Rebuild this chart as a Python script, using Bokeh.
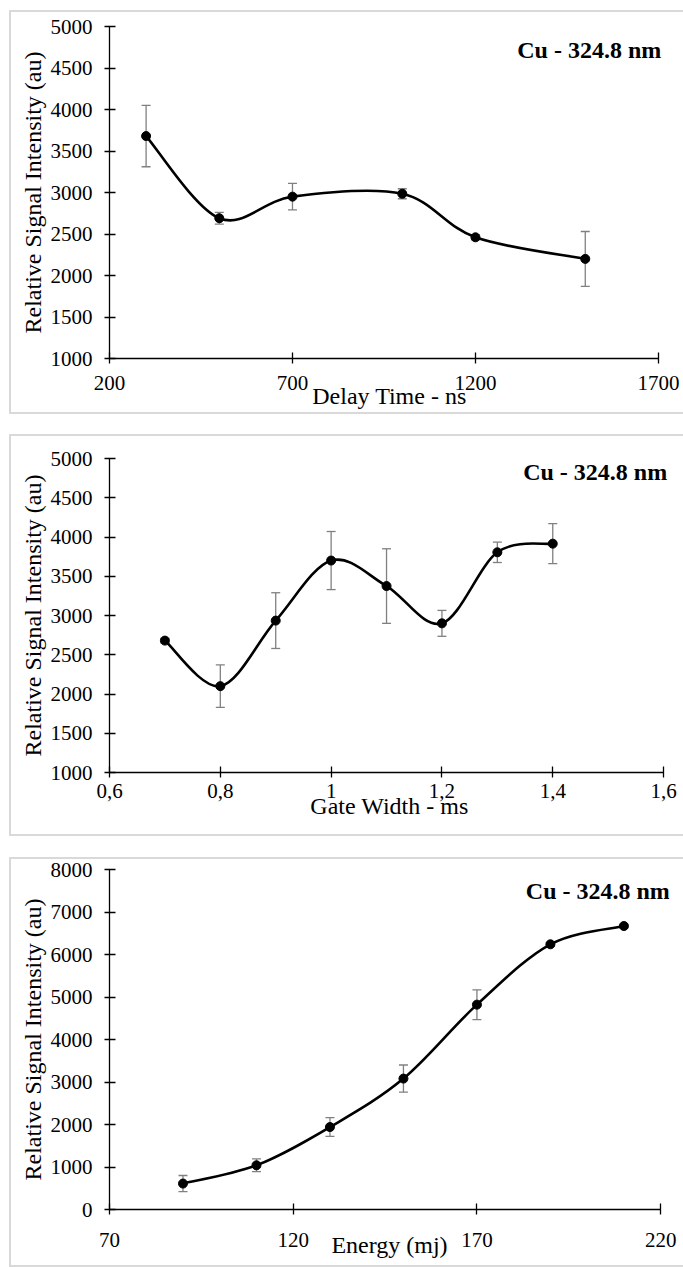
import numpy as np
from bokeh.plotting import figure
from bokeh.models import ColumnDataSource, Whisker, TeeHead, FixedTicker, Label, Range1d
from bokeh.layouts import column
from bokeh.embed import file_html
from bokeh.resources import INLINE

# ---------------- data ----------------
delay_ns = [300, 500, 700, 1000, 1200, 1500]
delay_int = [3680, 2690, 2950, 2985, 2460, 2200]
delay_err = [370, 70, 160, 60, 30, 330]

gate_ms = [0.7, 0.8, 0.9, 1.0, 1.1, 1.2, 1.3, 1.4]
gate_int = [2680, 2100, 2935, 3700, 3375, 2900, 3805, 3915]
gate_err = [30, 270, 355, 370, 475, 165, 130, 255]

energy_mj = [90, 110, 130, 150, 170, 190, 210]
energy_int = [610, 1040, 1940, 3080, 4820, 6240, 6670]
energy_err = [190, 150, 220, 320, 350, 40, 40]

delay_xticks = [200, 700, 1200, 1700]
delay_yticks = [1000, 1500, 2000, 2500, 3000, 3500, 4000, 4500, 5000]
gate_xticks = [0.6, 0.8, 1.0, 1.2, 1.4, 1.6]
gate_xlabels = ["0,6", "0,8", "1", "1,2", "1,4", "1,6"]
gate_yticks = [1000, 1500, 2000, 2500, 3000, 3500, 4000, 4500, 5000]
energy_xticks = [70, 120, 170, 220]
energy_yticks = [0, 1000, 2000, 3000, 4000, 5000, 6000, 7000, 8000]

title_text = "Cu - 324.8 nm"
ylab = "Relative Signal Intensity (au)"

FONT = "serif"
BORDER = "2px solid #d9d9d9"
LEFT = 9          # page x of each panel's left edge
BW = 2            # border width
W = 674           # element width (reaches the page's right edge)


def smooth(xs, ys):
    """Catmull-Rom style smoothing (like spreadsheet smoothed lines) -> bezier segments"""
    x = np.asarray(xs, float)
    y = np.asarray(ys, float)
    xp = np.concatenate([[x[0]], x, [x[-1]]])
    yp = np.concatenate([[y[0]], y, [y[-1]]])
    d = dict(x0=[], y0=[], x1=[], y1=[], cx0=[], cy0=[], cx1=[], cy1=[])
    for i in range(len(x) - 1):
        j = i + 1
        d["x0"].append(xp[j]); d["y0"].append(yp[j])
        d["x1"].append(xp[j + 1]); d["y1"].append(yp[j + 1])
        d["cx0"].append(xp[j] + (xp[j + 1] - xp[j - 1]) / 6)
        d["cy0"].append(yp[j] + (yp[j + 1] - yp[j - 1]) / 6)
        d["cx1"].append(xp[j + 1] - (xp[j + 2] - xp[j]) / 6)
        d["cy1"].append(yp[j + 1] - (yp[j + 2] - yp[j]) / 6)
    return d


def make_panel(xs, ys, errs, xr, yr, xticks, yticks, xlabel, height,
               frame_left_px, axis_end_px, mb_right, mb_top, mb_bottom, title_xy, margin_top,
               xlabel_overrides=None, tick_standoff_x=10, label_standoff_x=-14):
    content_left = LEFT + BW
    content_right = content_left + W - BW
    frame_right = content_right - mb_right
    scale = (xr[1] - xr[0]) / (axis_end_px - frame_left_px)
    x_end = xr[0] + (frame_right - frame_left_px) * scale
    p = figure(width=W, height=height, output_backend="svg", toolbar_location=None,
               x_range=Range1d(xr[0], x_end), y_range=Range1d(*yr),
               min_border_left=frame_left_px - content_left, min_border_right=mb_right,
               min_border_top=mb_top, min_border_bottom=mb_bottom)
    p.grid.visible = False
    p.outline_line_color = None
    p.background_fill_color = "white"
    p.border_fill_color = "white"
    p.xaxis.ticker = FixedTicker(ticks=xticks)
    p.yaxis.ticker = FixedTicker(ticks=yticks)
    p.xaxis.bounds = (xr[0], xr[1])
    if xlabel_overrides:
        p.xaxis.major_label_overrides = xlabel_overrides
    for ax in (p.xaxis, p.yaxis):
        ax.axis_line_color = "black"
        ax.axis_line_width = 1.3
        ax.major_tick_line_color = "black"
        ax.major_tick_line_width = 1.3
        ax.minor_tick_line_color = None
        ax.major_tick_in = 6
        ax.major_tick_out = 5
        ax.major_label_text_font = FONT
        ax.major_label_text_font_size = "21px"
        ax.major_label_text_color = "black"
        ax.axis_label_text_font = FONT
        ax.axis_label_text_font_size = "24px"
        ax.axis_label_text_font_style = "normal"
        ax.axis_label_text_color = "black"
    p.xaxis.axis_label = xlabel
    p.yaxis.axis_label = ylab
    p.xaxis.major_label_standoff = tick_standoff_x
    p.xaxis.axis_label_standoff = label_standoff_x
    p.yaxis.major_label_standoff = 12
    p.yaxis.axis_label_standoff = 2

    upper = [v + e for v, e in zip(ys, errs)]
    lower = [v - e for v, e in zip(ys, errs)]
    src = ColumnDataSource(dict(x=xs, y=ys, upper=upper, lower=lower))
    w = Whisker(base="x", upper="upper", lower="lower", source=src,
                line_color="#808080", line_width=1.3,
                upper_head=TeeHead(size=9, line_color="#808080", line_width=1.3),
                lower_head=TeeHead(size=9, line_color="#808080", line_width=1.3))
    p.add_layout(w)

    seg = ColumnDataSource(smooth(xs, ys))
    p.bezier(x0="x0", y0="y0", x1="x1", y1="y1", cx0="cx0", cy0="cy0",
             cx1="cx1", cy1="cy1", source=seg, line_color="black", line_width=2.6)
    p.scatter("x", "y", source=src, size=9, color="black")

    p.add_layout(Label(x=title_xy[0], y=title_xy[1], text=title_text,
                       text_font=FONT, text_font_style="bold", text_font_size="24px",
                       text_align="center", text_baseline="alphabetic", text_color="black"))
    p.styles = {"border-left": BORDER, "border-top": BORDER, "border-bottom": BORDER}
    p.margin = (margin_top, 0, 0, LEFT)
    return p


p1 = make_panel(delay_ns, delay_int, delay_err, (200, 1700), (1000, 5000),
                delay_xticks, delay_yticks, "Delay Time - ns", height=404,
                frame_left_px=109, axis_end_px=656, mb_right=16, mb_top=14, mb_bottom=58,
                title_xy=(1511, 4711), margin_top=10,
                tick_standoff_x=12, label_standoff_x=-10)

p2 = make_panel(gate_ms, gate_int, gate_err, (0.6, 1.6), (1000, 5000),
                gate_xticks, gate_yticks, "Gate Width - ms", height=402,
                frame_left_px=103, axis_end_px=664, mb_right=13, mb_top=22, mb_bottom=66,
                title_xy=(1.4765, 4825), margin_top=20,
                xlabel_overrides=dict(zip(gate_xticks, gate_xlabels)),
                tick_standoff_x=6, label_standoff_x=-8)

p3 = make_panel(energy_mj, energy_int, energy_err, (70, 220), (0, 8000),
                energy_xticks, energy_yticks, "Energy (mj)", height=410,
                frame_left_px=101, axis_end_px=661, mb_right=13, mb_top=10, mb_bottom=60,
                title_xy=(202.9, 7485), margin_top=21,
                tick_standoff_x=18, label_standoff_x=-18)

layout = column(p1, p2, p3, spacing=0)
open("out.html", "w").write(file_html(layout, INLINE))
